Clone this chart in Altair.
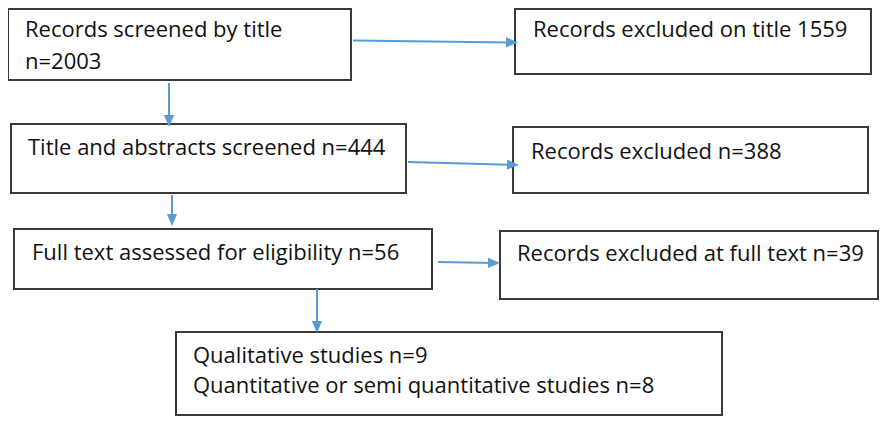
import altair as alt
import pandas as pd
import math

# ---- content ----
stages = [
    "Records screened by title",
    "Records excluded on title",
    "Title and abstracts screened",
    "Records excluded",
    "Full text assessed for eligibility",
    "Records excluded at full text",
    "Qualitative studies",
    "Quantitative or semi quantitative studies",
]
counts = [2003, 1559, 444, 388, 56, 39, 9, 8]

# text lines (built from stages/counts)
lines = [
    stages[0],
    f"n={counts[0]}",
    f"{stages[1]} {counts[1]}",
    f"{stages[2]} n={counts[2]}",
    f"{stages[3]} n={counts[3]}",
    f"{stages[4]} n={counts[4]}",
    f"{stages[5]} n={counts[5]}",
    f"{stages[6]} n={counts[6]}",
    f"{stages[7]} n={counts[7]}",
]

# ---- layout (page pixel units) ----
box_x1 = [8, 515, 11, 513, 14, 500, 176]
box_y1 = [9, 9, 124, 127, 229, 231, 332]
box_x2 = [351, 871, 406, 868, 432, 878, 722]
box_y2 = [80, 74, 193, 193, 289, 299, 415]

line_x = [25, 25, 533, 28, 531, 32, 517, 193, 193]
line_y = [37, 69, 37, 155, 159, 260, 261, 363, 393]

arr_x1 = [353, 169, 408, 172, 438, 317]
arr_y1 = [40.5, 83, 162, 195, 262, 289]
arr_x2 = [518, 169, 519, 172, 500, 317]
arr_y2 = [42.5, 127, 165, 226, 263, 333]

W, H = 871, 408
HEAD = 12  # arrowhead length

boxes = pd.DataFrame({"x1": box_x1, "y1": box_y1, "x2": box_x2, "y2": box_y2})
texts = pd.DataFrame({"x": line_x, "y": line_y, "t": lines})

rows = []
for a, b, c, d in zip(arr_x1, arr_y1, arr_x2, arr_y2):
    L = math.hypot(c - a, d - b)
    ux, uy = (c - a) / L, (d - b) / L
    cx, cy = c - ux * HEAD / 2, d - uy * HEAD / 2
    ang = math.degrees(math.atan2(uy, ux)) % 360
    rows.append({"x1": a, "y1": b, "x2": cx, "y2": cy, "hx": cx, "hy": cy, "ang": ang})
arrows = pd.DataFrame(rows)

xs = alt.Scale(domain=[8, 8 + W], nice=False, zero=False)
ys = alt.Scale(domain=[8 + H, 8], nice=False, zero=False)

def X(f):
    return alt.X(f, type="quantitative", scale=xs, axis=None)

def Y(f):
    return alt.Y(f, type="quantitative", scale=ys, axis=None)

rects = alt.Chart(boxes).mark_rect(
    fill="white", stroke="#3a3a3a", strokeWidth=2
).encode(x=X("x1"), x2="x2", y=Y("y1"), y2="y2")

shafts = alt.Chart(arrows).mark_rule(color="#5B9BD5", strokeWidth=2).encode(
    x=X("x1"), y=Y("y1"), x2="x2", y2="y2"
)

heads = alt.Chart(arrows).mark_point(
    shape="M-1,-0.85L1,0L-1,0.85Z", filled=True, color="#5B9BD5", opacity=1, size=HEAD * HEAD
).encode(x=X("hx"), y=Y("hy"), angle=alt.Angle("ang:Q", scale=None))

labels = alt.Chart(texts).mark_text(
    align="left", baseline="alphabetic", font="Open Sans", fontSize=22, color="#111111"
).encode(x=X("x"), y=Y("y"), text="t:N")

chart = (
    alt.layer(rects, shafts, heads, labels)
    .properties(width=W, height=H, padding=0, autosize=alt.AutoSizeParams(type="none"))
    .configure_view(stroke=None)
)

chart.save("out.html", embed_options={"renderer": "svg", "actions": False})
